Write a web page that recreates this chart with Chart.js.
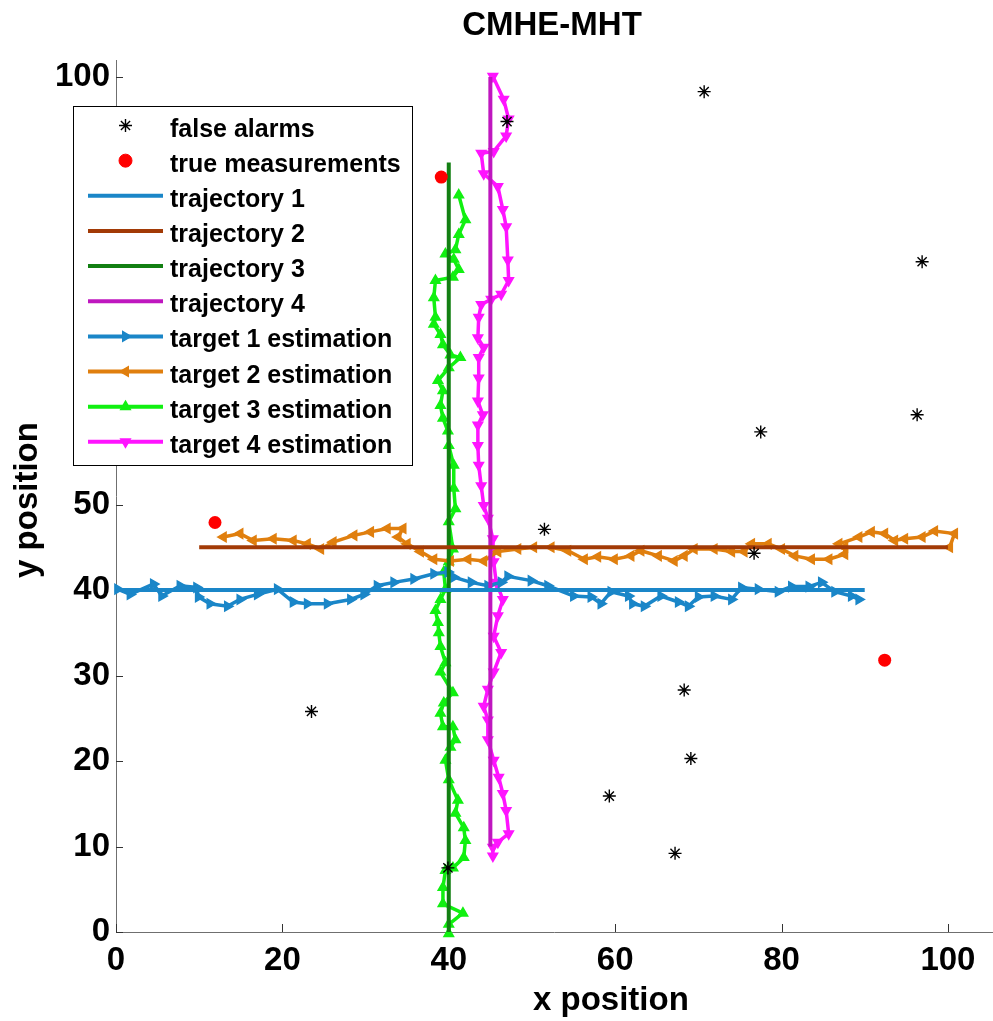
<!DOCTYPE html>
<html>
<head>
<meta charset="utf-8">
<title>CMHE-MHT</title>
<script src="https://cdn.jsdelivr.net/npm/chart.js@4/dist/chart.umd.min.js"></script>
<style>
  html, body { margin: 0; padding: 0; background: #fff; }
  #wrap { width: 993px; height: 1021px; }
</style>
</head>
<body>
<div id="wrap"><canvas id="chart" width="993" height="1021"></canvas></div>
<script>
// ---- data ----
const xTickValues = [0, 20, 40, 60, 80, 100];
const yTickValues = [0, 10, 20, 30, 40, 50, 60, 70, 80, 90, 100];

const falseAlarmX = [47.0, 70.7, 96.9, 96.3, 77.5, 51.5, 76.7, 68.3, 69.1, 59.3, 67.2, 23.5, 39.9];
const falseAlarmY = [94.8, 98.3, 78.4, 60.5, 58.5, 47.1, 44.3, 28.3, 20.3, 15.9, 9.2, 25.8, 7.5];

const trueMeasX = [39.1, 11.9, 92.4];
const trueMeasY = [88.3, 47.9, 31.8];

const traj1X = [0, 90];   const traj1Y = [40, 40];
const traj2X = [10, 100]; const traj2Y = [45, 45];
const traj3X = [40, 40];  const traj3Y = [0, 90];
const traj4X = [45, 45];  const traj4Y = [10, 100];

const est1X = [0.2, 1.7, 4.5, 5.5, 7.7, 9.7, 9.9, 11.3, 13.4, 14.9, 17.0, 19.4, 21.3, 23.0, 25.4, 28.2, 29.8, 31.4, 33.4, 35.8,
  38.2, 39.9, 40.6, 42.7, 44.7, 46.3, 47.1, 49.9, 51.9, 55.0, 57.1, 58.3, 59.5, 61.6, 62.1, 63.5, 65.5, 67.6, 68.8, 70.0,
  71.9, 74.0, 75.2, 77.2, 79.6, 81.2, 83.3, 84.8, 86.4, 88.4, 89.3];
const est1Y = [40.1, 39.5, 40.7, 39.3, 40.5, 40.3, 39.2, 38.4, 38.1, 38.9, 39.5, 40.1, 38.6, 38.4, 38.4, 38.9, 39.5, 40.5, 40.9, 41.3,
  41.9, 42.1, 41.5, 40.9, 40.5, 40.9, 41.6, 41.1, 40.5, 39.3, 39.2, 38.4, 39.8, 39.3, 38.4, 38.1, 39.3, 38.6, 38.1, 39.2,
  39.3, 38.9, 40.3, 40.1, 39.8, 40.4, 40.4, 40.9, 39.8, 39.3, 38.9];

const est2X = [100.2, 100.8, 98.4, 96.9, 94.8, 93.6, 92.4, 90.8, 89.3, 86.9, 87.6, 87.6, 85.7, 83.6, 81.6, 80.0, 78.4, 76.4, 75.5, 74.0,
  71.9, 69.5, 68.3, 67.1, 65.2, 63.1, 61.9, 59.9, 57.9, 56.3, 54.3, 52.3, 50.2, 48.3, 45.9, 44.2, 42.3, 40.2, 38.2, 36.6,
  35.0, 33.9, 34.5, 32.6, 30.6, 28.6, 26.1, 24.6, 23.0, 21.3, 18.9, 16.5, 14.9, 12.9];
const est2Y = [45.0, 46.6, 46.9, 46.2, 46.0, 45.8, 46.6, 46.8, 46.2, 45.4, 45.0, 44.2, 43.6, 43.6, 44.0, 44.8, 45.4, 45.4, 44.5, 44.5,
  44.8, 44.8, 44.0, 43.4, 44.0, 44.6, 44.0, 43.6, 43.9, 43.6, 44.6, 45.0, 45.0, 44.8, 44.5, 43.4, 43.6, 43.4, 43.6, 44.5,
  45.4, 46.2, 47.2, 47.2, 46.8, 46.4, 45.6, 44.8, 45.4, 45.8, 46.0, 45.8, 46.6, 46.2];

const est3X = [40.0, 40.0, 41.7, 39.3, 39.3, 39.6, 40.5, 41.8, 42.0, 41.8, 40.8, 41.1, 40.0, 39.6, 40.2, 40.8, 40.5, 39.3, 39.0, 39.4,
  40.5, 39.0, 39.6, 39.0, 38.8, 38.7, 38.4, 39.0, 39.6, 39.4, 40.0, 40.5, 40.0, 40.8, 40.6, 40.6, 40.0, 39.9, 39.3, 39.0,
  39.3, 38.7, 40.0, 41.4, 40.2, 39.3, 39.0, 38.2, 38.4, 38.2, 38.4, 40.5, 41.2, 40.6, 39.6, 40.8, 41.2, 42.0, 41.2];
const est3Y = [-0.2, 0.9, 2.2, 3.3, 5.2, 7.2, 7.5, 8.7, 10.7, 12.2, 13.9, 15.4, 17.8, 20.1, 21.6, 22.5, 24.0, 24.0, 25.6, 26.8,
  28.0, 30.4, 31.5, 33.4, 35.0, 36.2, 37.6, 38.9, 40.1, 42.1, 43.3, 44.8, 48.0, 49.5, 51.9, 54.6, 56.9, 58.6, 60.1, 61.6,
  63.3, 64.5, 66.0, 67.2, 67.5, 68.7, 69.9, 71.1, 71.9, 74.2, 76.2, 76.6, 77.5, 78.7, 79.3, 79.8, 81.6, 83.3, 86.2];

const est4X = [45.3, 46.6, 47.2, 46.9, 45.4, 43.9, 44.2, 45.9, 46.5, 46.9, 47.1, 47.2, 46.3, 45.1, 43.9, 43.6, 43.5, 44.2, 43.6, 43.6,
  43.5, 44.1, 43.5, 43.5, 43.6, 43.9, 44.2, 44.7, 45.3, 45.4, 45.7, 46.5, 45.9, 45.4, 46.3, 45.4, 44.7, 44.2, 44.7, 44.7,
  45.4, 46.0, 46.5, 46.9, 47.2, 45.9, 45.3, 45.3];
const est4Y = [100.1, 97.4, 95.1, 93.1, 91.3, 91.1, 88.7, 87.2, 84.5, 82.5, 78.6, 76.2, 74.6, 74.0, 73.4, 71.9, 69.5, 68.4, 67.2, 64.8,
  62.1, 60.5, 59.3, 56.9, 54.6, 52.2, 49.9, 48.4, 46.0, 43.3, 40.9, 38.9, 37.0, 34.6, 32.7, 30.4, 28.4, 26.4, 24.8, 22.5,
  20.1, 18.1, 16.2, 14.2, 11.5, 10.5, 9.9, 8.9];

const FONT = '"Liberation Sans", Arial, Helvetica, sans-serif';

function pts(xs, ys) {
    return xs.map((x, i) => ({ x: x, y: ys[i] }));
}

function trajectory(label, xs, ys, color) {
    return {
        label, data: pts(xs, ys), showLine: true, borderColor: color, backgroundColor: color,
        borderWidth: 4, pointRadius: 0, order: 2, clip: false
    };
}

function estimate(label, xs, ys, color, rotation) {
    return {
        label, data: pts(xs, ys), showLine: true, borderColor: color, backgroundColor: color,
        borderWidth: 3.5, pointStyle: 'triangle', pointRotation: rotation, pointRadius: 5.5,
        pointBorderWidth: 1.5, pointBackgroundColor: color, pointBorderColor: color, order: 3, clip: false
    };
}

const datasets = [
    {
        label: 'false alarms', data: pts(falseAlarmX, falseAlarmY), showLine: false,
        pointStyle: 'star', pointRadius: 6.5, pointBorderWidth: 1.4,
        borderColor: '#000', backgroundColor: '#000', order: 0, clip: false
    },
    {
        label: 'true measurements', data: pts(trueMeasX, trueMeasY), showLine: false,
        pointStyle: 'circle', pointRadius: 6.5, pointBorderWidth: 0,
        borderColor: '#ff0000', backgroundColor: '#ff0000', order: 1, clip: false
    },
    trajectory('trajectory 1', traj1X, traj1Y, '#1a86c8'),
    trajectory('trajectory 2', traj2X, traj2Y, '#a23a06'),
    trajectory('trajectory 3', traj3X, traj3Y, '#127f12'),
    trajectory('trajectory 4', traj4X, traj4Y, '#bf17bf'),
    estimate('target 1 estimation', est1X, est1Y, '#1a86c8', 90),
    estimate('target 2 estimation', est2X, est2Y, '#e07f0e', -90),
    estimate('target 3 estimation', est3X, est3Y, '#11f011', 0),
    estimate('target 4 estimation', est4X, est4Y, '#ff14ff', 180)
];

function drawMarker(ctx, ds, x, y) {
    const opts = {
        pointStyle: ds.pointStyle || 'circle',
        rotation: ds.pointRotation || 0,
        radius: ds.pointRadius,
        borderWidth: ds.pointBorderWidth || 1
    };
    ctx.fillStyle = ds.backgroundColor;
    ctx.strokeStyle = ds.borderColor;
    ctx.lineWidth = opts.borderWidth;
    if (Chart.helpers && Chart.helpers.drawPoint) {
        Chart.helpers.drawPoint(ctx, opts, x, y);
    } else {
        ctx.beginPath();
        ctx.arc(x, y, opts.radius, 0, Math.PI * 2);
        ctx.fill();
    }
}

// scales compute extra room for their edge labels; the axes here are placed by hand
function noPadding(s) {
    s.paddingLeft = 0;
    s.paddingRight = 0;
    s.paddingTop = 0;
    s.paddingBottom = 0;
}

const decorations = {
    id: 'decorations',
    beforeDatasetsDraw(chart) {
        const ctx = chart.ctx;
        const xs = chart.scales.x, ys = chart.scales.y;
        const area = chart.chartArea;
        ctx.save();
        ctx.strokeStyle = '#333';
        ctx.lineWidth = 1;
        ctx.beginPath();
        xTickValues.forEach(v => {
            const px = Math.round(xs.getPixelForValue(v)) + 0.5;
            ctx.moveTo(px, area.bottom);
            ctx.lineTo(px, area.bottom - 8);
        });
        yTickValues.forEach(v => {
            const py = Math.round(ys.getPixelForValue(v)) + 0.5;
            ctx.moveTo(area.left, py);
            ctx.lineTo(area.left + 7, py);
        });
        ctx.stroke();
        ctx.restore();
    },
    afterDraw(chart) {
        const ctx = chart.ctx;
        ctx.save();
        ctx.fillStyle = '#000';

        // title and axis labels
        ctx.font = 'bold 33px ' + FONT;
        ctx.textAlign = 'center';
        ctx.textBaseline = 'alphabetic';
        ctx.fillText('CMHE-MHT', 552, 35);
        ctx.textAlign = 'left';
        ctx.fillText('x position', 533, 1010);
        ctx.save();
        ctx.translate(37, 500);
        ctx.rotate(-Math.PI / 2);
        ctx.textAlign = 'center';
        ctx.fillText('y position', 0, 0);
        ctx.restore();

        // legend box
        const box = { left: 73, top: 106, right: 412, bottom: 465 };
        ctx.fillStyle = '#fff';
        ctx.fillRect(box.left, box.top, box.right - box.left, box.bottom - box.top);
        ctx.strokeStyle = '#000';
        ctx.lineWidth = 1;
        ctx.strokeRect(box.left + 0.5, box.top + 0.5, box.right - box.left, box.bottom - box.top);

        const rowTop = 125.5, rowGap = 35.15;
        chart.data.datasets.forEach((ds, i) => {
            const y = rowTop + i * rowGap;
            if (ds.showLine) {
                ctx.strokeStyle = ds.borderColor;
                ctx.lineWidth = 4;
                ctx.beginPath();
                ctx.moveTo(88, y);
                ctx.lineTo(163, y);
                ctx.stroke();
            }
            if (ds.pointRadius > 0) {
                drawMarker(ctx, ds, 125.5, y);
            }
            ctx.fillStyle = '#000';
            ctx.font = 'bold 25px ' + FONT;
            ctx.textAlign = 'left';
            ctx.textBaseline = 'alphabetic';
            ctx.fillText(ds.label, 170, y + 11);
        });
        ctx.restore();
    }
};

const tickFont = { family: FONT, size: 33, weight: 'bold' };

new Chart(document.getElementById('chart'), {
    type: 'scatter',
    data: { datasets: datasets },
    options: {
        responsive: false,
        animation: false,
        devicePixelRatio: 1,
        events: [],
        layout: { autoPadding: false, padding: { top: 60, right: 1, left: 0, bottom: 0 } },
        plugins: { legend: { display: false }, tooltip: { enabled: false }, title: { display: false } },
        scales: {
            x: {
                type: 'linear', position: 'bottom', min: 0, max: 105.3,
                grid: { display: false, drawTicks: false },
                border: { display: true, color: '#6f6f6f', width: 1 },
                ticks: { font: tickFont, color: '#000', padding: 9, maxRotation: 0, autoSkip: false },
                afterBuildTicks: s => { s.ticks = xTickValues.map(v => ({ value: v })); },
                afterFit: s => { s.height = 89; noPadding(s); }
            },
            y: {
                type: 'linear', position: 'left', min: 0, max: 102,
                grid: { display: false, drawTicks: false },
                border: { display: true, color: '#6f6f6f', width: 1 },
                ticks: { font: tickFont, color: '#000', padding: 6, autoSkip: false },
                afterBuildTicks: s => { s.ticks = yTickValues.map(v => ({ value: v })); },
                afterFit: s => { s.width = 116; noPadding(s); }
            }
        }
    },
    plugins: [decorations]
});
</script>
</body>
</html>
